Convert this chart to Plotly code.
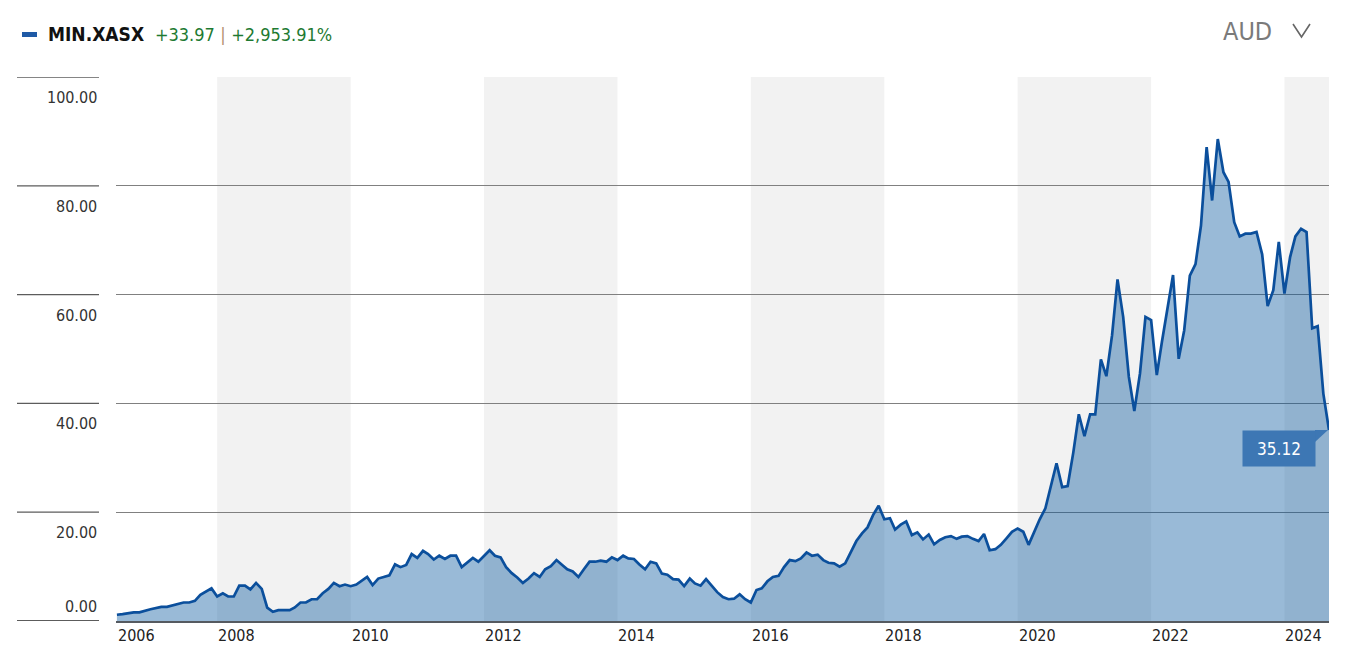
import plotly.graph_objects as go

# ---- data ----
months = [
    "2006-07", "2006-08", "2006-10", "2006-11",
    "2007-01", "2007-03", "2007-04", "2007-05", "2007-07", "2007-08", "2007-09", "2007-10", "2007-12",
    "2008-01", "2008-02", "2008-03", "2008-04", "2008-05", "2008-06", "2008-07", "2008-08", "2008-09", "2008-10", "2008-11", "2008-12",
    "2009-02", "2009-03", "2009-04", "2009-05", "2009-06", "2009-07", "2009-08", "2009-09", "2009-10", "2009-11", "2009-12",
    "2010-01", "2010-02", "2010-03", "2010-04", "2010-05", "2010-06", "2010-07", "2010-08", "2010-09", "2010-10", "2010-11", "2010-12",
    "2011-01", "2011-02", "2011-03", "2011-04", "2011-05", "2011-06", "2011-07", "2011-08", "2011-09", "2011-10", "2011-11", "2011-12",
    "2012-01", "2012-02", "2012-03", "2012-04", "2012-05", "2012-06", "2012-07", "2012-08", "2012-09", "2012-10", "2012-11", "2012-12",
    "2013-01", "2013-02", "2013-03", "2013-04", "2013-05", "2013-06", "2013-07", "2013-08", "2013-09", "2013-10", "2013-11", "2013-12",
    "2014-01", "2014-02", "2014-03", "2014-04", "2014-05", "2014-06", "2014-07", "2014-08", "2014-09", "2014-10", "2014-11", "2014-12",
    "2015-01", "2015-02", "2015-03", "2015-04", "2015-05", "2015-06", "2015-07", "2015-08", "2015-09", "2015-10", "2015-11", "2015-12",
    "2016-01", "2016-02", "2016-03", "2016-04", "2016-05", "2016-06", "2016-07", "2016-08", "2016-09", "2016-10", "2016-11", "2016-12",
    "2017-01", "2017-02", "2017-03", "2017-04", "2017-05", "2017-06", "2017-07", "2017-08", "2017-09", "2017-10", "2017-11", "2017-12",
    "2018-01", "2018-02", "2018-03", "2018-04", "2018-05", "2018-06", "2018-07", "2018-08", "2018-09", "2018-10", "2018-11", "2018-12",
    "2019-01", "2019-02", "2019-03", "2019-04", "2019-05", "2019-06", "2019-07", "2019-08", "2019-09", "2019-10", "2019-11", "2019-12",
    "2020-01", "2020-02", "2020-03", "2020-04", "2020-05", "2020-06", "2020-07", "2020-08", "2020-09", "2020-10", "2020-11", "2020-12",
    "2021-01", "2021-02", "2021-03", "2021-04", "2021-05", "2021-06", "2021-07", "2021-08", "2021-09", "2021-10", "2021-11", "2021-12",
    "2022-01", "2022-02", "2022-03", "2022-04", "2022-05", "2022-06", "2022-07", "2022-08", "2022-09", "2022-10", "2022-11", "2022-12",
    "2023-01", "2023-02", "2023-03", "2023-04", "2023-05", "2023-06", "2023-07", "2023-08", "2023-09", "2023-10", "2023-11", "2023-12",
    "2024-01", "2024-02", "2024-03", "2024-04", "2024-05", "2024-06", "2024-07", "2024-08", "2024-09",
]
close = [
    1.15, 1.25, 1.6, 1.6,
    2.15, 2.6, 2.6, 2.9, 3.4, 3.4, 3.7, 4.8, 6.0,
    4.5, 5.1, 4.5, 4.5, 6.5, 6.5, 5.8, 7.0, 5.9, 2.45, 1.7, 2.0,
    2.0, 2.5, 3.4, 3.4, 4.0, 4.0, 5.1, 5.9, 7.0, 6.4, 6.7,
    6.4, 6.7, 7.3, 8.1, 6.6, 7.8, 8.1, 8.4, 10.4, 9.9, 10.3, 12.3,
    11.6, 12.9, 12.3, 11.3, 12.0, 11.4, 12.0, 12.0, 9.9, 10.8, 11.6, 10.9,
    11.9, 13.0, 12.0, 11.7, 9.9, 8.8, 8.0, 7.0, 7.8, 8.8, 8.1, 9.5,
    10.1, 11.2, 10.4, 9.5, 9.1, 8.1, 9.5, 10.9, 10.9, 11.1, 10.9, 11.7,
    11.2, 12.0, 11.5, 11.4, 10.4, 9.5, 10.9, 10.6, 8.7, 8.5, 7.7, 7.6,
    6.4, 7.8, 6.9, 6.5, 7.7, 6.5, 5.3, 4.4, 4.0, 4.1, 4.9, 4.0,
    3.4, 5.7, 6.0, 7.3, 8.1, 8.3, 9.9, 11.2, 11.0, 11.5, 12.6, 12.0,
    12.2, 11.2, 10.7, 10.6, 10.0, 10.6, 12.5, 14.7, 16.1, 17.2, 19.5, 21.2,
    18.7, 18.9, 16.8, 17.7, 18.3, 15.8, 16.3, 15.0, 15.9, 14.1, 14.9, 15.4,
    15.6, 15.1, 15.5, 15.6, 15.1, 14.7, 16.0, 13.0, 13.2, 14.0, 15.2, 16.4,
    17.0, 16.4, 14.0, 16.4, 18.7, 20.7, 24.7, 29.0, 24.6, 24.8, 31.0, 38.0,
    34.0, 38.0, 38.0, 48.1, 45.0, 52.5, 62.8, 55.9, 44.9, 38.6, 45.5, 55.9,
    55.3, 45.2, 51.3, 57.3, 63.6, 48.2, 53.4, 63.5, 65.6, 72.7, 87.1, 77.3,
    88.6, 82.5, 80.7, 73.3, 70.7, 71.2, 71.2, 71.5, 67.4, 57.9, 60.8, 69.7,
    60.2, 66.9, 70.7, 72.1, 71.5, 53.8, 54.2, 41.8, 35.12,
]
y_ticks = [0, 20, 40, 60, 80, 100]
y_tick_labels = ["0.00", "20.00", "40.00", "60.00", "80.00", "100.00"]
x_tick_years = ["2008", "2010", "2012", "2014", "2016", "2018", "2020", "2022", "2024"]
band_starts = ["2008-01-01", "2012-01-01", "2016-01-01", "2020-01-01", "2024-01-01"]
band_ends = ["2010-01-01", "2014-01-01", "2018-01-01", "2022-01-01", None]
ticker = "MIN.XASX"
change_abs = "+33.97"
change_pct = "+2,953.91%"
currency = "AUD"

x_start = "2006-06-26"
x_end = months[-1]

FONT = "DejaVu Sans Condensed, Roboto, sans-serif"
LINE = "#0b4f9c"
FILL = "rgba(0,82,155,0.40)"
OFF = 8                      # page body margin
W, H = 1347 - 2 * OFF, 661 - 2 * OFF
ML, MR, MT, MB = 116 - OFF, 10, 77 - OFF, 32
PW = W - ML - MR
PH = H - MT - MB


def px_x(px):  # reference-screen x pixel -> paper
    return (px - OFF - ML) / PW


def px_y(py):  # reference-screen y pixel -> paper
    return (H - MB - (py - OFF)) / PH


fig = go.Figure()
fig.add_trace(go.Scatter(
    x=months, y=close, mode="lines",
    line=dict(color=LINE, width=2.7),
    fill="tozeroy", fillcolor=FILL,
    hoverinfo="x+y", showlegend=False,
))

shapes = []
for s, e in zip(band_starts, band_ends):
    shapes.append(dict(type="rect", xref="x", yref="paper", x0=s, x1=e if e else x_end,
                       y0=0, y1=1, fillcolor="#f2f2f2", line=dict(width=0), layer="below"))
# grid extension lines in the label column
for v in y_ticks:
    shapes.append(dict(type="line", xref="paper", yref="y", x0=px_x(17), x1=px_x(99), y0=v, y1=v,
                       line=dict(color="#5c5c5c", width=2 if v == 0 else 1.3)))
# legend dash
shapes.append(dict(type="rect", xref="paper", yref="paper", x0=px_x(22), x1=px_x(37),
                   y0=px_y(37), y1=px_y(32), fillcolor="#1f5aa6", line=dict(width=0)))
# currency chevron
shapes.append(dict(type="path", xref="paper", yref="paper",
                   path=f"M{px_x(1293)},{px_y(24)} L{px_x(1301.5)},{px_y(37)} L{px_x(1310)},{px_y(24)}",
                   line=dict(color="#666666", width=1.6)))
# notch of last-value badge
shapes.append(dict(type="path", xref="x", yref="y", xsizemode="pixel", ysizemode="pixel",
                   xanchor=months[-1], yanchor=close[-1],
                   path="M-14,0 L-1,0 L-14,-12 Z", fillcolor="#3d77b4", line=dict(width=0)))

annotations = []
for v, t in zip(y_ticks, y_tick_labels):
    if v == 0:
        annotations.append(dict(xref="paper", yref="y", x=px_x(99), y=v, text=t, showarrow=False,
                                xanchor="right", yanchor="bottom", yshift=3,
                                font=dict(family=FONT, size=16, color="#333333")))
    else:
        annotations.append(dict(xref="paper", yref="y", x=px_x(99), y=v, text=t, showarrow=False,
                                xanchor="right", yanchor="top", yshift=-9,
                                font=dict(family=FONT, size=16, color="#333333")))
annotations.append(dict(xref="paper", yref="paper", x=0, y=0, text="2006", showarrow=False,
                        xanchor="left", yanchor="top", yshift=-3,
                        font=dict(family=FONT, size=16, color="#222222")))
for yr in x_tick_years:
    annotations.append(dict(xref="x", yref="paper", x=f"{yr}-01-01", y=0, text=yr, showarrow=False,
                            xanchor="left", yanchor="top", yshift=-3, xshift=-1,
                            font=dict(family=FONT, size=16, color="#222222")))
# header
annotations.append(dict(xref="paper", yref="paper", x=px_x(46), y=px_y(34), showarrow=False,
                        xanchor="left", yanchor="middle",
                        text=(f"<b>{ticker}</b>  <span style='color:#1e7a32;font-size:18px'>{change_abs}</span>"
                              f" <span style='color:#b5916f;font-size:18px'>|</span> "
                              f"<span style='color:#1e7a32;font-size:18px'>{change_pct}</span>"),
                        font=dict(family=FONT, size=19, color="#111111")))
annotations.append(dict(xref="paper", yref="paper", x=px_x(1221), y=px_y(31), showarrow=False,
                        xanchor="left", yanchor="middle", text=currency,
                        font=dict(family=FONT, size=25, color="#7a7a7a")))
# last value badge
annotations.append(dict(xref="x", yref="y", x=months[-1], y=close[-1], text=f"{close[-1]:.2f}",
                        showarrow=False, xanchor="right", yanchor="top", xshift=-13,
                        width=68, height=31, borderpad=2, bgcolor="#3d77b4",
                        font=dict(family=FONT, size=17, color="#ffffff")))

fig.update_layout(
    width=W, height=H,
    margin=dict(l=ML, r=MR, t=MT, b=MB),
    paper_bgcolor="white", plot_bgcolor="white",
    shapes=shapes, annotations=annotations,
    xaxis=dict(type="date", range=[x_start, x_end], showgrid=False, showticklabels=False,
               ticks="", showline=True, linecolor="#555a60", linewidth=2, zeroline=False, fixedrange=True),
    yaxis=dict(range=[0, 100], tickvals=y_ticks, showticklabels=False, showgrid=True,
               gridcolor="#808080", gridwidth=1, zeroline=False, showline=False, ticks="", fixedrange=True),
    font=dict(family=FONT),
)

fig.write_html("out.html")
